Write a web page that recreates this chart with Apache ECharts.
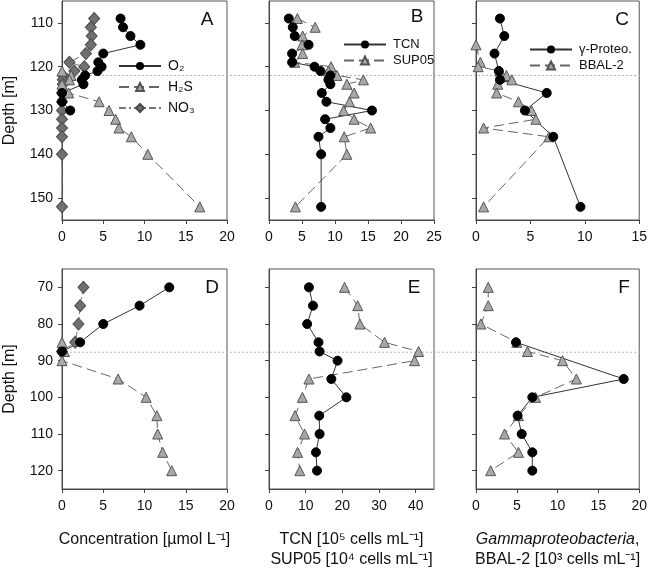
<!DOCTYPE html>
<html>
<head>
<meta charset="utf-8">
<script src="https://cdn.jsdelivr.net/npm/echarts@6/dist/echarts.min.js"></script>
<style>
  html, body { margin: 0; padding: 0; background: #fff; }
  #chart { width: 650px; height: 573px; }
</style>
</head>
<body>
<div id="chart"></div>
<script>
// depth ticks
const depthTicksTop = [110, 120, 130, 140, 150]
const depthTicksBottom = [70, 80, 90, 100, 110, 120]
const xTicksConc = [0, 5, 10, 15, 20]
const xTicksB = [0, 5, 10, 15, 20, 25]
const xTicksC = [0, 5, 10, 15]
const xTicksE = [0, 10, 20, 30, 40]
const xTicksF = [0, 5, 10, 15, 20]

// chemocline depths (dotted lines)
const chemoTop = 122
const chemoBottom = 87.7

// panel A  [value, depth]
const aO2 = [[7.1, 109], [7.4, 111], [8.3, 113], [9.5, 115], [5.0, 117], [4.4, 119], [4.8, 120], [4.3, 121], [2.8, 122], [2.4, 123], [2.6, 124], [0, 126], [0, 128], [1.0, 130]]
const aH2S = [[0, 121], [1.1, 122], [0.9, 123], [0, 124], [0.8, 126], [4.5, 128], [5.7, 130], [6.5, 132], [6.9, 134], [8.4, 136], [10.4, 140], [16.7, 152]]
const aNO3 = [[3.9, 109], [3.5, 111], [3.6, 113], [3.5, 115], [2.9, 117], [0.9, 119], [2.7, 120], [1.5, 121], [0.1, 122], [0.1, 123], [0.1, 124], [0, 126], [0, 128], [0, 130], [0, 132], [0, 134], [0, 136], [0, 140], [0, 152]]
// panel B
const bTCN = [[3.0, 109], [3.6, 111], [3.9, 113], [6.0, 115], [3.5, 117], [3.5, 119], [6.9, 120], [7.8, 121], [9.3, 122], [9.0, 123], [9.3, 124], [8.0, 126], [8.7, 128], [15.6, 130], [8.5, 132], [9.3, 134], [7.5, 136], [7.9, 140], [7.9, 152]]
const bSUP05 = [[4.3, 109], [7.0, 111], [5.1, 113], [5.0, 115], [5.1, 117], [3.9, 119], [9.4, 120], [9.0, 121], [10.3, 122], [14.3, 123], [11.8, 124], [12.9, 126], [12.2, 128], [11.3, 130], [12.9, 132], [15.4, 134], [11.4, 136], [11.8, 140], [4.0, 152]]
// panel C
const cGamma = [[2.2, 109], [2.6, 113], [1.7, 117], [2.1, 121], [2.2, 123], [6.5, 126], [4.5, 130], [7.1, 136], [9.6, 152]]
const cBBAL = [[0.0, 115], [0.4, 119], [0.2, 120], [2.2, 121], [2.8, 122], [3.3, 123], [2.0, 124], [1.9, 126], [3.9, 128], [5.1, 130], [5.5, 132], [0.7, 134], [6.7, 136], [0.7, 152]]
// panel D
const dO2 = [[13.0, 70], [9.4, 75], [5.0, 80], [2.2, 85], [0, 87.5]]
const dH2S = [[0, 85], [0.3, 87.5], [0, 90], [6.8, 95], [10.2, 100], [11.5, 105], [11.6, 110], [12.2, 115], [13.3, 120]]
const dNO3 = [[2.6, 70], [2.2, 75], [2.0, 80], [1.6, 85], [0, 87.5]]
// panel E
const eTCN = [[10.9, 70], [12.0, 75], [10.4, 80], [13.5, 85], [13.8, 87.5], [18.7, 90], [17.0, 95], [21.1, 100], [13.7, 105], [13.8, 110], [12.8, 115], [13.1, 120]]
const eSUP05 = [[20.6, 70], [24.2, 75], [24.8, 80], [31.5, 85], [40.8, 87.5], [39.7, 90], [10.9, 95], [9.1, 100], [7.1, 105], [9.7, 110], [7.8, 115], [8.4, 120]]
// panel F
const fGamma = [[4.9, 85], [18.1, 95], [6.9, 100], [5.1, 105], [5.6, 110], [6.9, 115], [6.9, 120]]
const fBBAL = [[1.5, 70], [1.5, 75], [0.6, 80], [5.0, 85], [6.3, 87.5], [10.6, 90], [12.3, 95], [7.3, 100], [5.2, 105], [3.5, 110], [5.2, 115], [1.8, 120]]

const FONT = 'Liberation Sans, Arial, sans-serif'
const cols = [62, 269, 476]
const W = 165

const circ = {
  symbol: 'circle', symbolSize: 9,
  itemStyle: { color: '#000', borderColor: '#000' },
  lineStyle: { color: '#333', width: 1, type: 'solid' }
}
const tri = {
  symbol: 'triangle', symbolSize: 10,
  itemStyle: { color: '#a8a8a8', borderColor: '#555', borderWidth: 1 },
  lineStyle: { color: '#666', width: 1, type: [10, 5] }
}
const dia = {
  symbol: 'diamond', symbolSize: [11, 12],
  itemStyle: { color: '#707070', borderColor: '#4a4a4a', borderWidth: 1 },
  lineStyle: { color: '#777', width: 1, type: [7, 3, 2, 3] }
}

function grid(left, top, height) {
  return { left: left, top: top, width: W, height: height, show: true, borderColor: '#555', borderWidth: 1, containLabel: false }
}

function xAx(i, max, ticks, extra) {
  return Object.assign({
    gridIndex: i, type: 'value', min: 0, max: max,
    axisLine: { show: true, onZero: false, lineStyle: { color: '#444' } },
    axisTick: { show: true, length: 4, customValues: ticks, lineStyle: { color: '#444' } },
    axisLabel: { fontSize: 14, color: '#111', margin: 10, fontFamily: FONT, customValues: ticks },
    splitLine: { show: false }
  }, extra || {})
}

function yAx(i, min, max, ticks, labels, extra) {
  return Object.assign({
    gridIndex: i, type: 'value', inverse: true, min: min, max: max,
    axisLine: { show: true, onZero: false, lineStyle: { color: '#444' } },
    axisTick: { show: true, length: 4, customValues: ticks, lineStyle: { color: '#444' } },
    axisLabel: { show: labels, fontSize: 14, color: '#111', margin: 9, fontFamily: FONT, customValues: ticks },
    splitLine: { show: false }
  }, extra || {})
}

const depthName = {
  name: 'Depth [m]', nameLocation: 'middle', nameGap: 44,
  nameTextStyle: { fontSize: 16, color: '#111', fontFamily: FONT }
}

function s(name, style, data, idx) {
  return Object.assign({
    name: name, type: 'line', data: data, xAxisIndex: idx, yAxisIndex: idx,
    showSymbol: true, clip: false, z: 3
  }, style)
}

function chemo(value, idx) {
  return {
    type: 'line', xAxisIndex: idx, yAxisIndex: idx, silent: true, z: 1,
    showSymbol: false, symbol: 'none',
    lineStyle: { color: '#b5b5b5', width: 1, type: [2, 2] },
    data: [[0, value], [1, value]]
  }
}

function legend(left, top, names, fontSize, gap) {
  return {
    left: left, top: top, orient: 'vertical', data: names,
    itemWidth: 42, itemHeight: 10, itemGap: gap,
    textStyle: { fontSize: fontSize, color: '#111', fontFamily: FONT, padding: [0, 0, 0, 2] }
  }
}

function letter(t, x, y) {
  return { type: 'text', x: x, y: y, style: { text: t, fill: '#111', font: '19px ' + FONT, align: 'center', verticalAlign: 'middle' } }
}

const chart = echarts.init(document.getElementById('chart'))
chart.setOption({
  animation: false,
  backgroundColor: '#fff',
  grid: [
    grid(cols[0], 1, 219), grid(cols[1], 1, 219), grid(cols[2], 1, 219),
    grid(cols[0], 269, 220), grid(cols[1], 269, 220), grid(cols[2], 269, 220),
    { left: cols[0], top: 1, width: cols[2] + W - cols[0], height: 219, show: false },
    { left: cols[0], top: 269, width: cols[2] + W - cols[0], height: 220, show: false }
  ],
  xAxis: [
    xAx(0, 20, xTicksConc),
    xAx(1, 25, xTicksB),
    xAx(2, 15, xTicksC),
    xAx(3, 20, xTicksConc, {
      name: 'Concentration [µmol L⁻¹]', nameLocation: 'middle', nameGap: 43,
      nameTextStyle: { fontSize: 16, color: '#111', fontFamily: FONT }
    }),
    xAx(4, 45, xTicksE, {
      name: 'TCN [10⁵ cells mL⁻¹]\nSUP05 [10⁴ cells mL⁻¹]', nameLocation: 'middle', nameGap: 41,
      nameTextStyle: { fontSize: 16, lineHeight: 20, color: '#111', fontFamily: FONT, align: 'center' }
    }),
    xAx(5, 20, xTicksF, {
      name: '{i|Gammaproteobacteria}{n|,}\n{n|BBAL-2 [10³ cells mL⁻¹]}', nameLocation: 'middle', nameGap: 41,
      nameTextStyle: {
        fontSize: 16, lineHeight: 20, color: '#111', fontFamily: FONT, align: 'center',
        rich: {
          i: { fontSize: 16, lineHeight: 20, fontStyle: 'italic', color: '#111', fontFamily: FONT },
          n: { fontSize: 16, lineHeight: 20, color: '#111', fontFamily: FONT }
        }
      }
    }),
    { gridIndex: 6, type: 'value', min: 0, max: 1, show: false },
    { gridIndex: 7, type: 'value', min: 0, max: 1, show: false }
  ],
  yAxis: [
    yAx(0, 105, 155, depthTicksTop, true, depthName),
    yAx(1, 105, 155, depthTicksTop, false),
    yAx(2, 105, 155, depthTicksTop, false),
    yAx(3, 65, 125, depthTicksBottom, true, depthName),
    yAx(4, 65, 125, depthTicksBottom, false),
    yAx(5, 65, 125, depthTicksBottom, false),
    { gridIndex: 6, type: 'value', inverse: true, min: 105, max: 155, show: false },
    { gridIndex: 7, type: 'value', inverse: true, min: 65, max: 125, show: false }
  ],
  legend: [
    legend(113, 54, ['O₂', 'H₂S', 'NO₃'], 14, 7),
    legend(338, 33, ['TCN', 'SUP05'], 13, 3),
    legend(524, 38, ['γ-Proteo.', 'BBAL-2'], 13, 3)
  ],
  graphic: [
    letter('A', 207, 20), letter('B', 417, 17), letter('C', 622, 20),
    letter('D', 212, 288), letter('E', 414, 288), letter('F', 624, 288)
  ],
  series: [
    chemo(chemoTop, 6),
    chemo(chemoBottom, 7),
    s('NO₃', dia, aNO3, 0),
    s('H₂S', tri, aH2S, 0),
    s('O₂', circ, aO2, 0),
    s('SUP05', tri, bSUP05, 1),
    s('TCN', circ, bTCN, 1),
    s('BBAL-2', tri, cBBAL, 2),
    s('γ-Proteo.', circ, cGamma, 2),
    s('NO₃', dia, dNO3, 3),
    s('H₂S', tri, dH2S, 3),
    s('O₂', circ, dO2, 3),
    s('SUP05', tri, eSUP05, 4),
    s('TCN', circ, eTCN, 4),
    s('BBAL-2', tri, fBBAL, 5),
    s('γ-Proteo.', circ, fGamma, 5)
  ]
})
</script>
</body>
</html>
